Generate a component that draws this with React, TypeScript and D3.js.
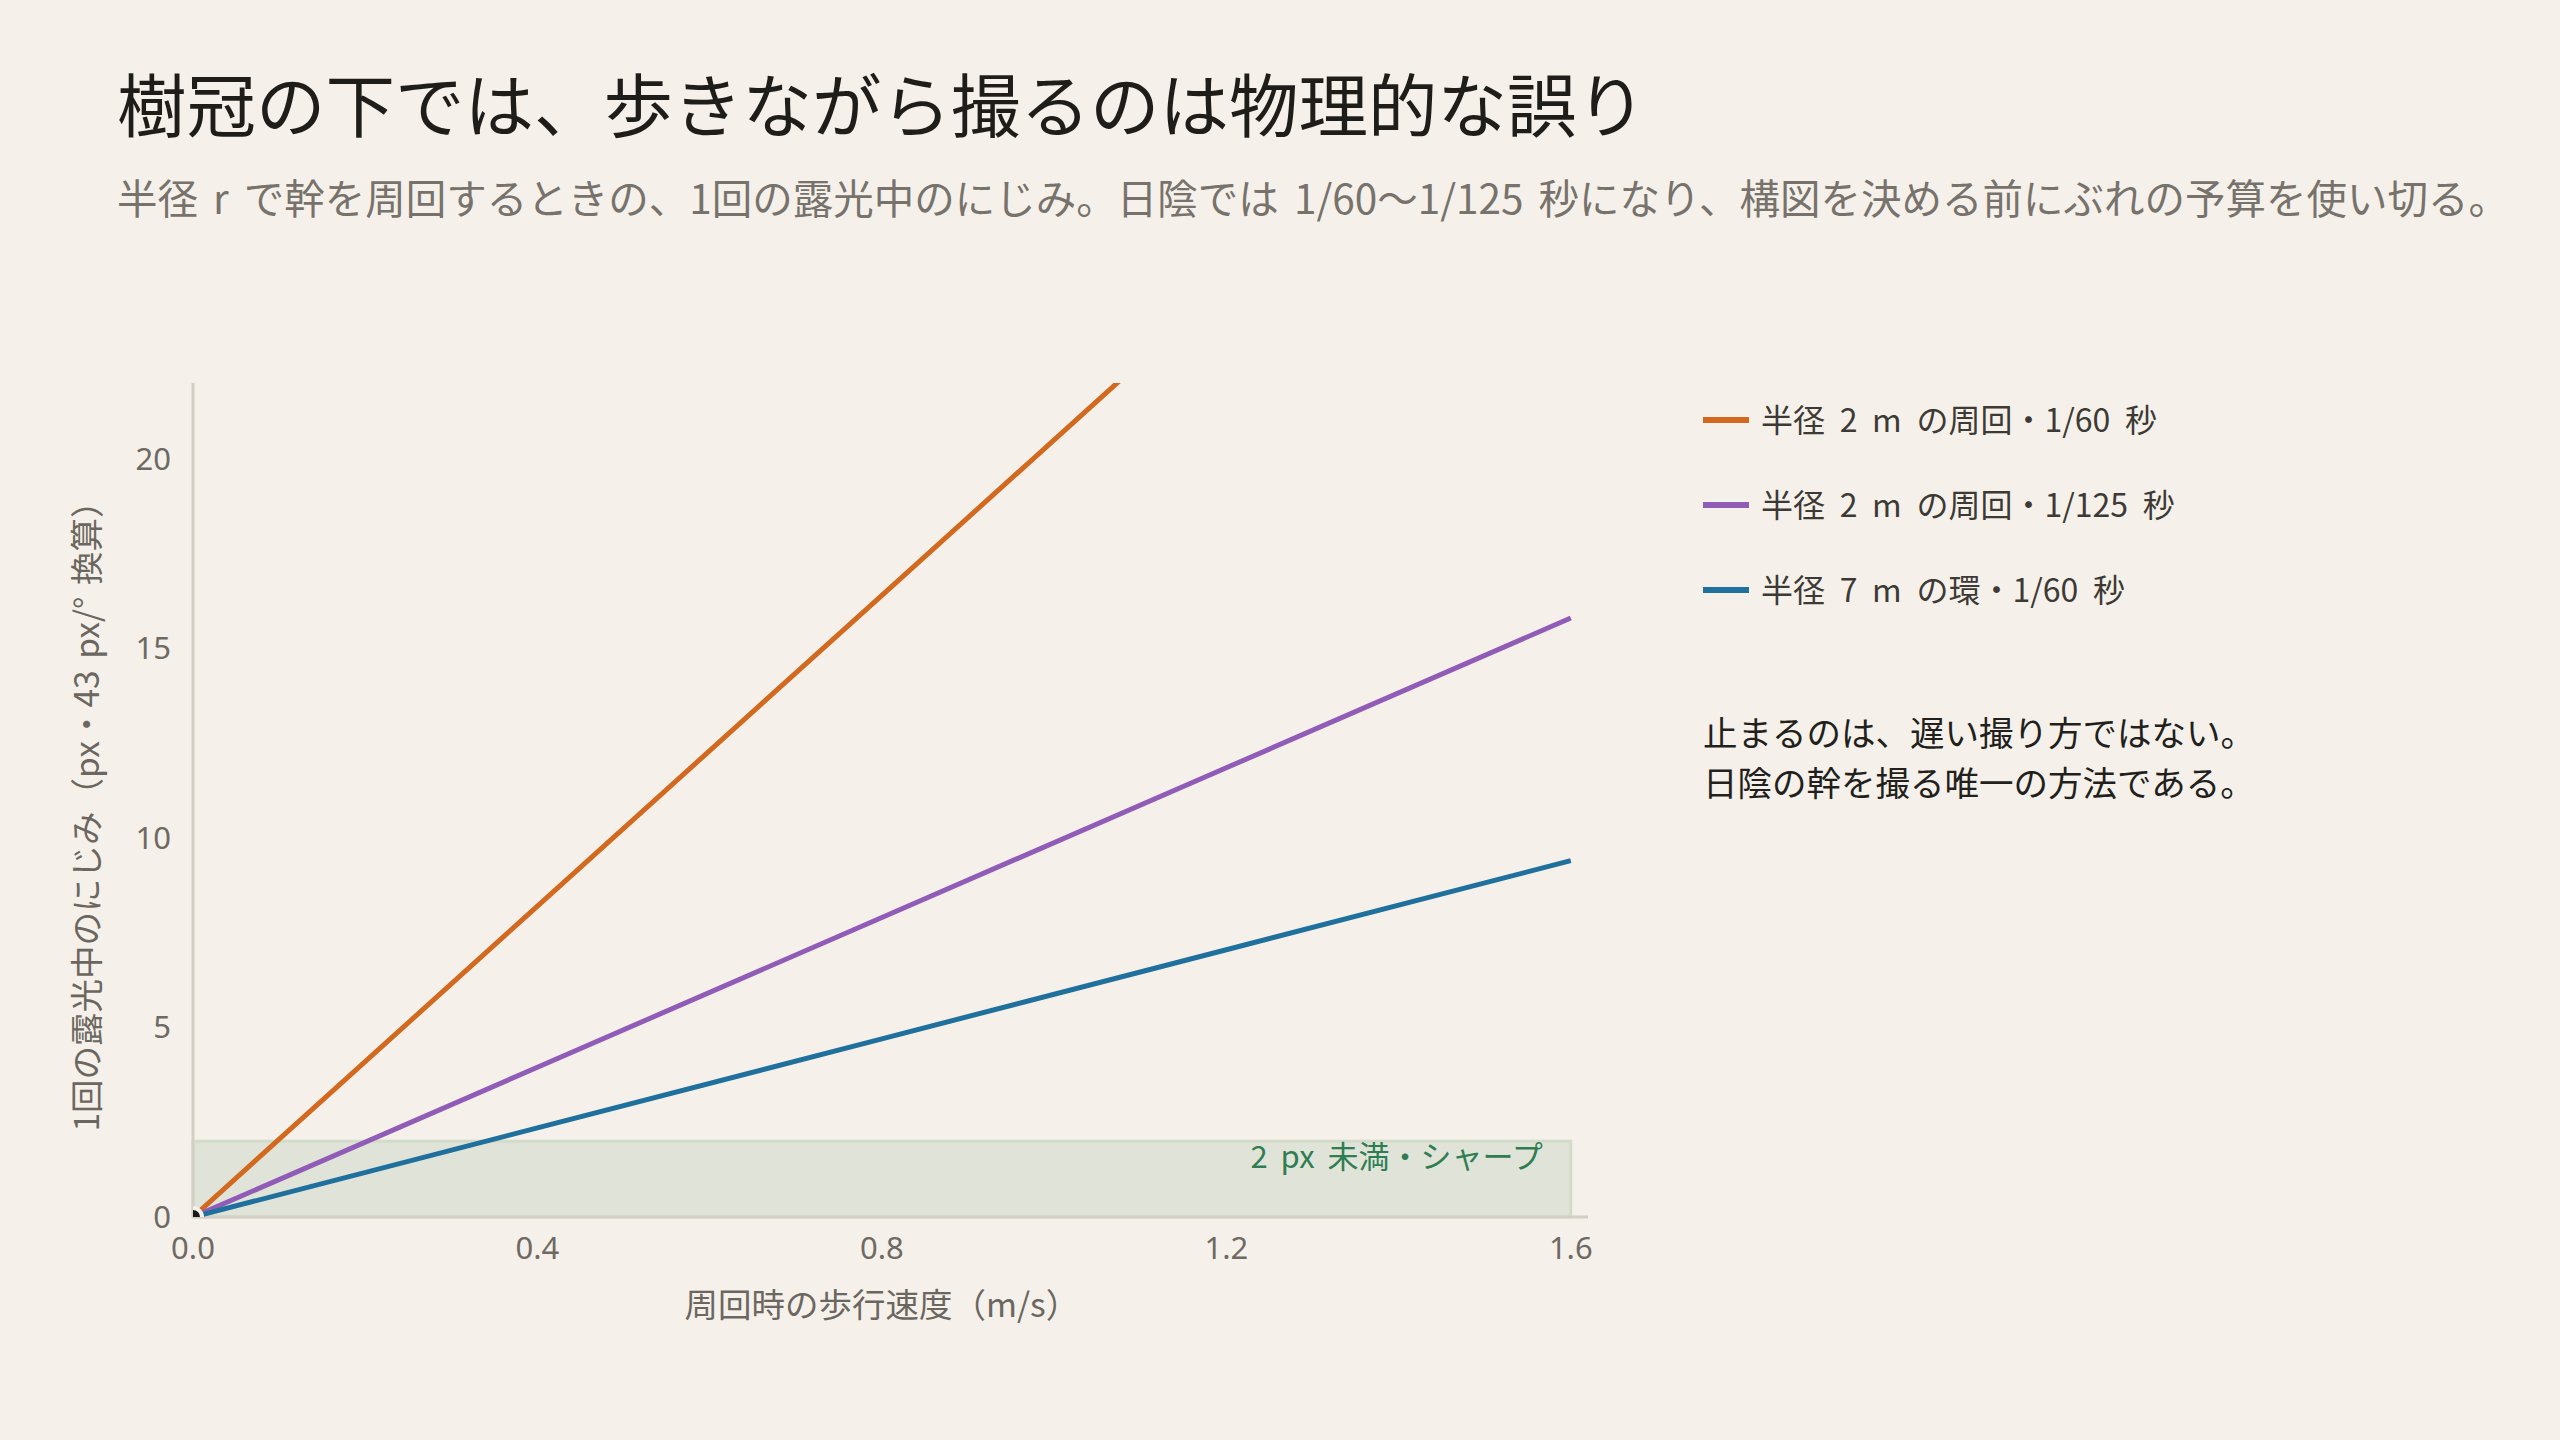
import { useEffect, useRef } from "react";
import * as d3 from "d3";

// walking speed around the trunk (m/s)
const speeds = [0, 0.4, 0.8, 1.2, 1.6];

// blur per exposure, px
const orbit2m60 = [0, 8.2, 16.4, 24.6, 32.8];
const orbit2m125 = [0, 3.95, 7.9, 11.85, 15.8];
const ring7m60 = [0, 2.35, 4.7, 7.05, 9.4];

const seriesLabels = [
  "半径 2 m の周回・1/60 秒",
  "半径 2 m の周回・1/125 秒",
  "半径 7 m の環・1/60 秒",
];
const seriesColors = ["#d2691f", "#905cb8", "#20709e"];

const xTicks = [0, 0.4, 0.8, 1.2, 1.6];
const yTicks = [0, 5, 10, 15, 20];
const sharpLimit = 2;

const title = "樹冠の下では、歩きながら撮るのは物理的な誤り";
const subtitle =
  "半径 r で幹を周回するときの、1回の露光中のにじみ。日陰では 1/60〜1/125 秒になり、構図を決める前にぶれの予算を使い切る。";
const noteLines = ["止まるのは、遅い撮り方ではない。", "日陰の幹を撮る唯一の方法である。"];

const FONT = "'Noto Sans CJK JP', 'Noto Sans', sans-serif";

export default function App() {
  const svgRef = useRef<SVGSVGElement>(null);

  useEffect(() => {
    if (!svgRef.current) return;
    document.body.style.margin = "0";
    document.body.style.background = "#f5f1ea";

    const W = 2560;
    const H = 1440;
    const svg = d3.select(svgRef.current).attr("width", W).attr("height", H);
    svg.selectAll("*").remove();

    svg.append("rect").attr("width", W).attr("height", H).attr("fill", "#f5f1ea");

    // Header
    svg
      .append("text")
      .attr("x", 117)
      .attr("y", 132)
      .text(title)
      .attr("fill", "#1f1d1a")
      .style("font-family", FONT)
      .style("font-size", "69.5px");

    svg
      .append("text")
      .attr("x", 117)
      .attr("y", 214)
      .text(subtitle)
      .attr("fill", "#77736c")
      .style("font-family", FONT)
      .style("font-size", "40.5px")
      .style("word-spacing", "6px");

    // Scales
    const x = d3.scaleLinear().domain([0, 1.62]).range([193, 1588]);
    const y = d3.scaleLinear().domain([0, 22]).range([1217, 383]);

    svg
      .append("clipPath")
      .attr("id", "plot-clip")
      .append("rect")
      .attr("x", x(0))
      .attr("y", y(22))
      .attr("width", x(1.62) - x(0))
      .attr("height", y(0) - y(22));

    // Sharp band
    svg
      .append("rect")
      .attr("x", x(0))
      .attr("y", y(sharpLimit))
      .attr("width", x(1.6) - x(0))
      .attr("height", y(0) - y(sharpLimit))
      .attr("fill", "#e0e3d8")
      .attr("stroke", "#d3dbc9")
      .attr("stroke-width", 3);

    svg
      .append("text")
      .attr("x", x(1.6) - 28)
      .attr("y", y(sharpLimit) + 27)
      .attr("text-anchor", "end")
      .text("2 px 未満・シャープ")
      .attr("fill", "#2f7d52")
      .style("font-family", FONT)
      .style("font-size", "31px")
      .style("word-spacing", "6px");

    // Axes
    const axisColor = "#d4cfc4";
    svg
      .append("line")
      .attr("x1", x(0))
      .attr("x2", x(0))
      .attr("y1", y(22))
      .attr("y2", y(0))
      .attr("stroke", axisColor)
      .attr("stroke-width", 3);
    svg
      .append("line")
      .attr("x1", x(0))
      .attr("x2", x(1.62))
      .attr("y1", y(0))
      .attr("y2", y(0))
      .attr("stroke", axisColor)
      .attr("stroke-width", 3);

    svg
      .append("g")
      .selectAll("text")
      .data(xTicks)
      .join("text")
      .attr("x", (d) => x(d))
      .attr("y", 1259)
      .attr("text-anchor", "middle")
      .text((d) => d3.format(".1f")(d))
      .attr("fill", "#6e6a63")
      .style("font-family", "'Noto Sans', sans-serif")
      .style("font-size", "31px");

    svg
      .append("g")
      .selectAll("text")
      .data(yTicks)
      .join("text")
      .attr("x", 171)
      .attr("y", (d) => y(d))
      .attr("dy", "0.35em")
      .attr("text-anchor", "end")
      .text((d) => d)
      .attr("fill", "#6e6a63")
      .style("font-family", "'Noto Sans', sans-serif")
      .style("font-size", "31px");

    svg
      .append("text")
      .attr("x", (x(0) + x(1.6)) / 2)
      .attr("y", 1317)
      .attr("text-anchor", "middle")
      .text("周回時の歩行速度（m/s）")
      .attr("fill", "#6b6760")
      .style("font-family", FONT)
      .style("font-size", "33.5px");

    svg
      .append("text")
      .attr("transform", `translate(99, ${(y(0) + y(22)) / 2 + 8}) rotate(-90)`)
      .attr("text-anchor", "middle")
      .text("1回の露光中のにじみ（px・43 px/° 換算）")
      .attr("fill", "#6b6760")
      .style("font-family", FONT)
      .style("font-size", "33.5px")
      .style("word-spacing", "4px");

    // Lines
    const seriesValues = [orbit2m60, orbit2m125, ring7m60];
    const line = d3
      .line<number>()
      .x((_, i) => x(speeds[i]))
      .y((d) => y(d));

    const plot = svg.append("g").attr("clip-path", "url(#plot-clip)");
    seriesValues.forEach((vals, i) => {
      plot
        .append("path")
        .datum(vals)
        .attr("fill", "none")
        .attr("stroke", seriesColors[i])
        .attr("stroke-width", 5)
        .attr("d", line);
    });

    // origin marker
    plot
      .append("circle")
      .attr("cx", x(0))
      .attr("cy", y(0))
      .attr("r", 9)
      .attr("fill", "#1a1816")
      .attr("stroke", "#f5f1ea")
      .attr("stroke-width", 4);

    // Legend
    const legend = svg.append("g").attr("transform", "translate(1703, 420)");
    seriesLabels.forEach((label, i) => {
      const row = legend.append("g").attr("transform", `translate(0, ${i * 85})`);
      row
        .append("line")
        .attr("x1", 0)
        .attr("x2", 46)
        .attr("y1", 0)
        .attr("y2", 0)
        .attr("stroke", seriesColors[i])
        .attr("stroke-width", 6);
      row
        .append("text")
        .attr("x", 58)
        .attr("y", 0)
        .attr("dy", "0.36em")
        .text(label)
        .attr("fill", "#3d3a35")
        .style("font-family", FONT)
        .style("font-size", "32px")
        .style("word-spacing", "7.5px");
    });

    // Note
    svg
      .append("g")
      .selectAll("text")
      .data(noteLines)
      .join("text")
      .attr("x", 1703)
      .attr("y", (_, i) => 746 + i * 50)
      .text((d) => d)
      .attr("fill", "#221f1c")
      .style("font-family", FONT)
      .style("font-size", "34.5px");
  }, []);

  return <svg ref={svgRef} style={{ display: "block" }}></svg>;
}
